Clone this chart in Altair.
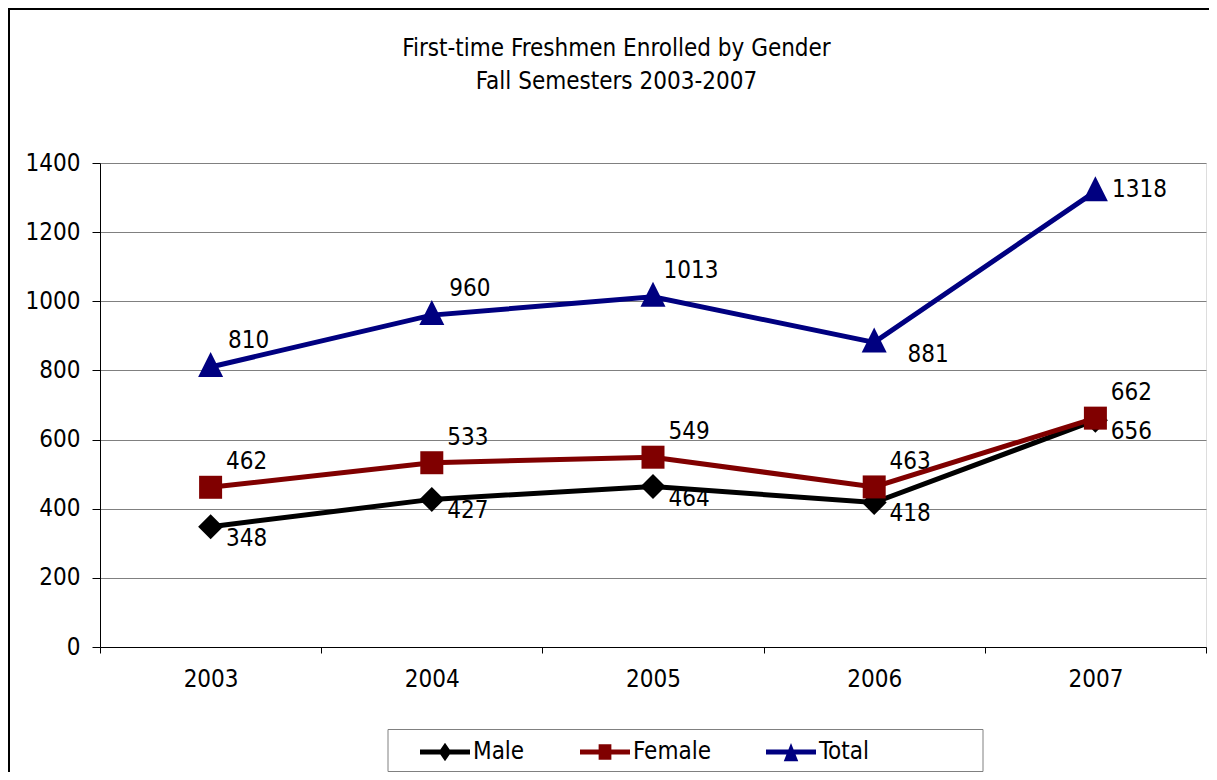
import altair as alt
import pandas as pd

years = ["2003", "2004", "2005", "2006", "2007"]
male = [348, 427, 464, 418, 656]
female = [462, 533, 549, 463, 662]
total = [810, 960, 1013, 881, 1318]
series_names = ["Male", "Female", "Total"]
series_colors = ["#000000", "#800000", "#000080"]
y_ticks = [0, 200, 400, 600, 800, 1000, 1200, 1400]
title_lines = ["First-time Freshmen Enrolled by Gender", "Fall Semesters 2003-2007"]

rows = []
for name, vals in zip(series_names, [male, female, total]):
    for yr, v in zip(years, vals):
        rows.append({"year": yr, "series": name, "value": v})
df = pd.DataFrame(rows)

FONT = "Liberation Sans Narrow, DejaVu Sans Condensed, sans-serif"
FS = 24
W, H = 1106, 484

color_scale = alt.Scale(domain=series_names, range=series_colors)

x_enc = alt.X(
    "year:O",
    scale=alt.Scale(type="band", domain=years, paddingInner=0, paddingOuter=0),
    bandPosition=0.5,
    axis=alt.Axis(
        title=None, labelAngle=0, tickBand="extent", grid=False,
        domainColor="#000000", tickColor="#000000", tickSize=6,
        labelFont=FONT, labelFontSize=FS, labelColor="#000000", labelPadding=14,
    ),
)
y_enc = alt.Y(
    "value:Q",
    scale=alt.Scale(domain=[0, 1400], nice=False),
    axis=alt.Axis(
        title=None, values=y_ticks, format="d", grid=True, gridColor="#808080",
        domainColor="#000000", tickColor="#000000", tickSize=8,
        labelFont=FONT, labelFontSize=FS, labelColor="#000000", labelPadding=12,
    ),
)

base = alt.Chart(df)

# decorative outer frame, legend box and title
deco_df = pd.DataFrame({"k": [0]})
frame = alt.Chart(deco_df).mark_rect(fill="transparent", stroke="#000000", strokeWidth=2).encode(
    x=alt.value(-91), x2=alt.value(1160), y=alt.value(-154), y2=alt.value(700)
)
legend_box = alt.Chart(deco_df).mark_rect(fill="transparent", stroke="#808080", strokeWidth=1).encode(
    x=alt.value(288), x2=alt.value(883), y=alt.value(566.5), y2=alt.value(608.5)
)
title_layers = [
    alt.Chart(deco_df).mark_text(
        text=title_lines[0], font=FONT, fontSize=24, color="#000000",
        align="center", baseline="middle",
    ).encode(x=alt.value(516.5), y=alt.value(-114)),
    alt.Chart(deco_df).mark_text(
        text=title_lines[1], font=FONT, fontSize=24, color="#000000",
        align="center", baseline="middle",
    ).encode(x=alt.value(516.5), y=alt.value(-81)),
]

marker_shapes = {"Male": ("diamond", 625), "Female": ("square", 529),
                 "Total": ("M0,-1.2L1,0.8L-1,0.8Z", 625)}
series_layers = []
for name, col in zip(series_names, series_colors):
    shp, sz = marker_shapes[name]
    sub = base.transform_filter(alt.datum.series == name)
    series_layers.append(
        sub.mark_line(strokeWidth=5, color=col).encode(x=x_enc, y=y_enc)
    )
    series_layers.append(
        sub.mark_point(filled=True, opacity=1, size=sz, shape=shp, strokeWidth=0, color=col)
        .encode(x=x_enc, y=y_enc)
    )


def labels(filter_expr, dx, dy):
    return base.transform_filter(filter_expr).mark_text(
        font=FONT, fontSize=FS, color="#000000", align="center", baseline="middle", dx=dx, dy=dy
    ).encode(x=x_enc, y=y_enc, text=alt.Text("value:Q"))


label_layers = [
    labels("datum.series == 'Male'", 36, 12),
    labels("datum.series == 'Female'", 36, -25),
    labels("datum.series == 'Total' && datum.year != '2006' && datum.year != '2007'", 38, -26),
    labels("datum.series == 'Total' && datum.year == '2006'", 54, 13),
    labels("datum.series == 'Total' && datum.year == '2007'", 44, -1),
]

legend_paths = [
    "M-1,-0.1H1V0.1H-1Z M0,-0.37L0.255,0L0,0.37L-0.255,0Z",
    "M-1,-0.1H1V0.1H-1Z M-0.255,-0.31H0.255V0.31H-0.255Z",
    "M-1,-0.1H1V0.1H-1Z M0,-0.36L0.29,0.37L-0.29,0.37Z",
]
leg = alt.Legend(
    title=None, orient="none", legendX=320, legendY=564, direction="horizontal",
    labelFont=FONT, labelFontSize=FS, labelColor="#000000", symbolSize=2500,
    columnPadding=55, labelOffset=3, padding=0, symbolStrokeWidth=0, symbolOpacity=1,
)
legend_layer = base.transform_filter("false").mark_point(
    filled=True, opacity=1, size=2500, strokeWidth=0
).encode(
    x=x_enc, y=y_enc,
    color=alt.Color("series:N", scale=color_scale, legend=leg),
    shape=alt.Shape("series:N", scale=alt.Scale(domain=series_names, range=legend_paths), legend=leg),
)

chart = alt.layer(
    frame, legend_box, *title_layers, *series_layers, *label_layers, legend_layer
).properties(
    width=W, height=H,
    autosize=alt.AutoSizeParams(type="none"),
    padding={"left": 92, "top": 155, "right": 3, "bottom": 125},
).configure_view(stroke="#808080", strokeWidth=1).configure(background="white")

chart.save("out.html", embed_options={"renderer": "svg", "actions": False})
